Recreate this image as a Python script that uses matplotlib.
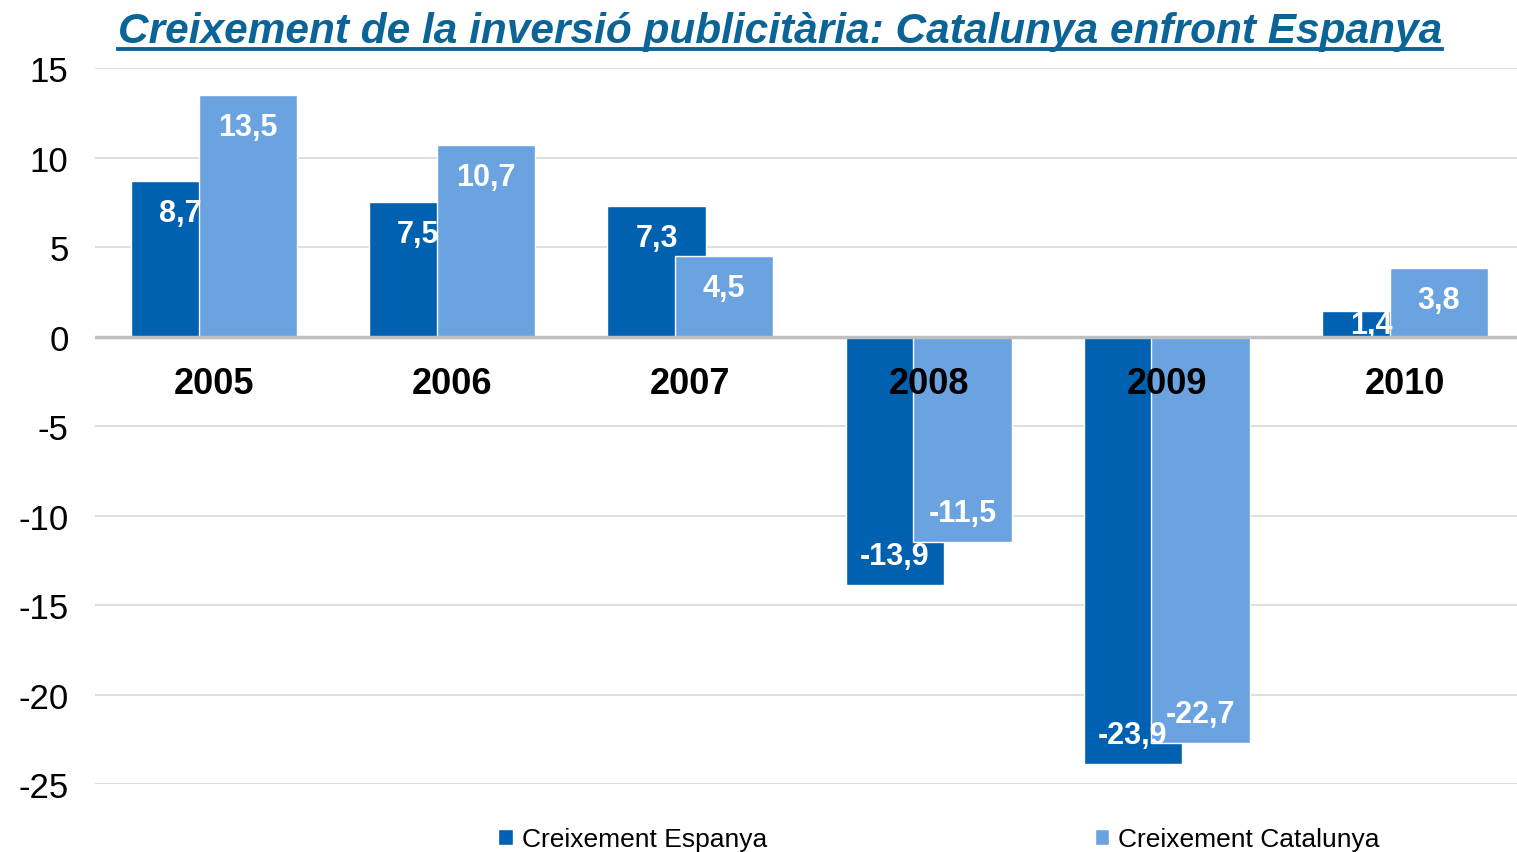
import matplotlib.pyplot as plt
import numpy as np

plt.rcParams['font.family'] = ['Liberation Sans', 'DejaVu Sans']
plt.rcParams['axes.unicode_minus'] = False

years = ['2005', '2006', '2007', '2008', '2009', '2010']
espanya = [8.7, 7.5, 7.3, -13.9, -23.9, 1.4]
catalunya = [13.5, 10.7, 4.5, -11.5, -22.7, 3.8]
yticks = [15, 10, 5, 0, -5, -10, -15, -20, -25]

col_esp = '#0061B0'
col_cat = '#6AA3E0'

fig = plt.figure(figsize=(15.17, 8.53), dpi=100)
ax = fig.add_axes([0.0626, 0.0797, 0.942, 0.8394])

x = np.arange(len(years))
w = 0.413
off = 0.142

b1 = ax.bar(x - off, espanya, w, color=col_esp, edgecolor='white', linewidth=1, zorder=2,
            label='Creixement Espanya')
b2 = ax.bar(x + off, catalunya, w, color=col_cat, edgecolor='white', linewidth=1, zorder=3,
            label='Creixement Catalunya')

def fmt(v):
    return f'{v:.1f}'.replace('.', ',')

# data labels, inside end
for bars, vals, z in [(b1, espanya, 4), (b2, catalunya, 5)]:
    for rect, v in zip(bars, vals):
        cx = rect.get_x() + rect.get_width() / 2
        if abs(v) < 3:
            dy = -10
        else:
            dy = -23 if v > 0 else 21
        ax.annotate(fmt(v), (cx, v), xytext=(0, dy), textcoords='offset points',
                    ha='center', va='center', color='white', fontsize=22,
                    fontweight='bold', zorder=z + 2)

# category labels under zero line
for xi, yr in zip(x, years):
    ax.text(xi, -2.65, yr, ha='center', va='center', fontsize=26,
            fontweight='bold', color='black', zorder=10)

ax.set_xlim(-0.5, 5.5)
ax.set_ylim(-25, 15)
ax.set_yticks(yticks)
ax.set_yticklabels([str(t) for t in yticks])
ax.set_xticks([])
ax.tick_params(axis='y', length=0, pad=19, labelsize=25)

ax.grid(axis='y', color='#D9D9D9', linewidth=1.2, zorder=0)
ax.set_axisbelow(True)
ax.axhline(0, color='#BFBFBF', linewidth=2.5, zorder=6)
for s in ax.spines.values():
    s.set_visible(False)

leg = ax.legend(loc='center', ncol=2, frameon=False, fontsize=19, handlelength=0.55,
                handleheight=0.55, handletextpad=0.35, columnspacing=12.4)
leg.set_bbox_to_anchor((0.619, 1 - 840 / 853), transform=fig.transFigure)

title = fig.text(0.514, 0.963, 'Creixement de la inversió publicitària: Catalunya enfront Espanya',
                 ha='center', va='center', fontsize=30.5, fontweight='bold', fontstyle='italic',
                 color='#0B6497')

# underline the title
fig.canvas.draw()
bb = title.get_window_extent()
yl = (bb.y0 + 2) / fig.bbox.height
fig.add_artist(plt.Line2D([bb.x0 / fig.bbox.width, bb.x1 / fig.bbox.width], [yl, yl],
                          transform=fig.transFigure, color='#0B6497', linewidth=2.8))

fig.savefig('out.png', dpi=100)
